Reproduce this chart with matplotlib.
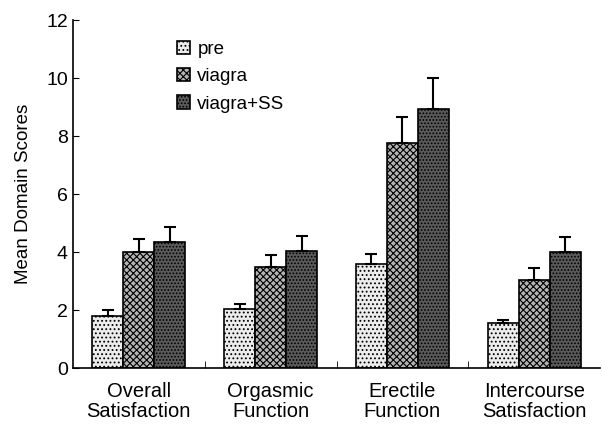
import numpy as np
import matplotlib
matplotlib.use('Agg')
import matplotlib.pyplot as plt

plt.rcParams['font.family'] = ['Liberation Sans', 'DejaVu Sans']
plt.rcParams['hatch.linewidth'] = 0.8

categories = ['Overall\nSatisfaction', 'Orgasmic\nFunction', 'Erectile\nFunction', 'Intercourse\nSatisfaction']
series = ['pre', 'viagra', 'viagra+SS']
pre = [1.8, 2.05, 3.6, 1.55]
viagra = [4.0, 3.5, 7.75, 3.05]
viagra_ss = [4.35, 4.05, 8.95, 4.0]
pre_err = [0.2, 0.15, 0.35, 0.12]
viagra_err = [0.45, 0.4, 0.9, 0.4]
viagra_ss_err = [0.5, 0.5, 1.05, 0.52]

values = [pre, viagra, viagra_ss]
errors = [pre_err, viagra_err, viagra_ss_err]
faces = ['#ececec', '#b4b4b4', '#5a5a5a']
hatches = ['....', 'xxxxx', '.....']

fig = plt.figure(figsize=(6.02, 4.30), dpi=100)
ax = fig.add_axes([0.121, 0.144, 0.876, 0.809])

x = np.arange(len(categories))
w = 0.235
for i, (vals, errs) in enumerate(zip(values, errors)):
    pos = x + (i - 1) * w
    ax.bar(pos, vals, w, color=faces[i], edgecolor='black', hatch=hatches[i],
           linewidth=1.2, label=series[i])
    ax.errorbar(pos, vals, yerr=[np.zeros(len(errs)), errs], fmt='none',
                ecolor='black', elinewidth=1.5, capsize=4, capthick=1.5)

ax.set_xlim(-0.5, 3.5)
ax.set_ylim(0, 12)
ax.set_yticks(range(0, 13, 2))
ax.set_xticks(x)
ax.set_xticklabels(categories, fontsize=14.5, linespacing=1.05)
ax.set_xticks([0.5, 1.5, 2.5], minor=True)
ax.tick_params(axis='x', which='major', length=0, pad=10)
ax.tick_params(axis='x', which='minor', direction='in', length=5)
ax.tick_params(axis='y', direction='in', length=4, labelsize=14)
ax.set_ylabel('Mean Domain Scores', fontsize=13.5, labelpad=10)

for side in ['top', 'right']:
    ax.spines[side].set_visible(False)
ax.spines['left'].set_linewidth(1.2)
ax.spines['bottom'].set_linewidth(1.2)

ax.legend(loc='upper left', bbox_to_anchor=(0.165, 0.99), frameon=False,
          fontsize=13.5, handlelength=0.7, handleheight=0.7,
          handletextpad=0.4, labelspacing=0.55)

fig.savefig('out.png', dpi=100)
